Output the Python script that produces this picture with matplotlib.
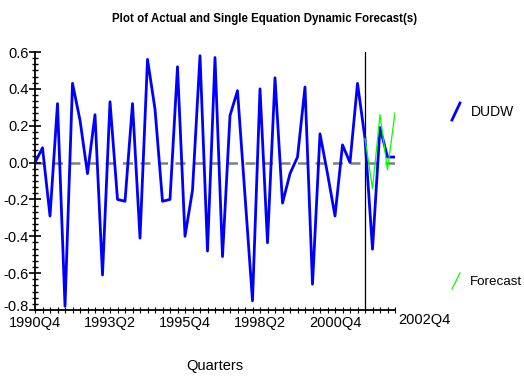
import numpy as np
import pandas as pd
import matplotlib
matplotlib.use("Agg")
import matplotlib.pyplot as plt
import matplotlib.transforms as mtransforms
from matplotlib.lines import Line2D
from matplotlib.ticker import MultipleLocator, AutoMinorLocator

plt.rcParams['font.family'] = ['Liberation Sans Narrow', 'Liberation Sans', 'DejaVu Sans']

# quarterly series, 1990Q4 .. 2002Q4
quarters = pd.period_range('1990Q4', '2002Q4', freq='Q')
dudw = [0.00, 0.08, -0.29, 0.32, -0.78, 0.43, 0.23, -0.06, 0.26, -0.61,
        0.33, -0.20, -0.21, 0.32, -0.41, 0.56, 0.29, -0.21, -0.20, 0.52,
        -0.40, -0.15, 0.58, -0.48, 0.57, -0.51, 0.255, 0.39, -0.18, -0.75,
        0.40, -0.435, 0.46, -0.22, -0.06, 0.03, 0.41, -0.66, 0.156, -0.06,
        -0.29, 0.096, 0.00, 0.43, 0.13, -0.47, 0.19, 0.03, 0.03]
forecast_start = '2001Q4'
forecast = [0.13, -0.14, 0.26, -0.04, 0.27]

yticks = [-0.8, -0.6, -0.4, -0.2, 0.0, 0.2, 0.4, 0.6]

x = np.arange(len(quarters))
labels = [f"{q.year}Q{q.quarter}" for q in quarters]
f0 = list(quarters).index(pd.Period(forecast_start, freq='Q'))
xf = np.arange(f0, f0 + len(forecast))

fs = 10.5

fig = plt.figure(figsize=(5.24, 3.76), dpi=100)
ax = fig.add_axes([35/524, 1 - 310/376, 360/524, 258/376])

ax.axhline(0, color='#808080', lw=1.8, ls=(0, (4, 3)), zorder=1)
ax.axvline(f0, color='black', lw=0.9, zorder=2)
ax.plot(x, dudw, color='#0000ff', lw=2.0, zorder=3)
ax.plot(xf, forecast, color='#00ff00', lw=0.9, zorder=4)

ax.set_xlim(0, len(quarters) - 1)
ax.set_ylim(-0.8, 0.6)

for s in ['top', 'right']:
    ax.spines[s].set_visible(False)
for s in ['left', 'bottom']:
    ax.spines[s].set_linewidth(1.3)

ax.set_yticks(yticks)
ax.set_yticklabels([f"{v:.1f}" for v in yticks])
ax.yaxis.set_minor_locator(AutoMinorLocator(6))
ax.set_xticks(x[:-1:10])
ax.set_xticklabels(labels[:-1:10])
ax.xaxis.set_minor_locator(MultipleLocator(1))

ax.tick_params(axis='y', which='major', direction='inout', length=9, width=1.2, labelsize=fs, pad=0)
ax.tick_params(axis='y', which='minor', direction='inout', length=5, width=1.0)
ax.tick_params(axis='x', which='major', direction='inout', length=5, width=0.8, labelsize=fs, pad=2)
ax.tick_params(axis='x', which='minor', direction='inout', length=4, width=0.8)

# lift the bottom y label a touch so it clears 1990Q4
lift = mtransforms.ScaledTranslation(0, 3/72, fig.dpi_scale_trans)
bottom_lab = ax.get_yticklabels()[0]
bottom_lab.set_transform(bottom_lab.get_transform() + lift)

# last label sits off to the right of the axis end
ax.annotate(labels[-1], xy=(x[-1], -0.8), xytext=(21, -2), textcoords='offset points',
            ha='center', va='top', fontsize=fs, annotation_clip=False)

ax.set_xlabel('Quarters', fontsize=fs, labelpad=21)
fig.text(265/524, 1 - 19/376, 'Plot of Actual and Single Equation Dynamic Forecast(s)',
         ha='center', va='center', fontsize=8.3, fontweight='bold')

# legend entries drawn as short slanted strokes
fig.add_artist(Line2D([452/524, 460/524], [1 - 120/376, 1 - 103/376],
                      transform=fig.transFigure, color='#0000ff', lw=2.0))
fig.text(471/524, 1 - 112/376, 'DUDW', ha='left', va='center', fontsize=10)
fig.add_artist(Line2D([452/524, 460/524], [1 - 289/376, 1 - 273/376],
                      transform=fig.transFigure, color='#00ff00', lw=0.9))
fig.text(470/524, 1 - 282/376, 'Forecast', ha='left', va='center', fontsize=9.6)

fig.savefig('out.png', dpi=100)
